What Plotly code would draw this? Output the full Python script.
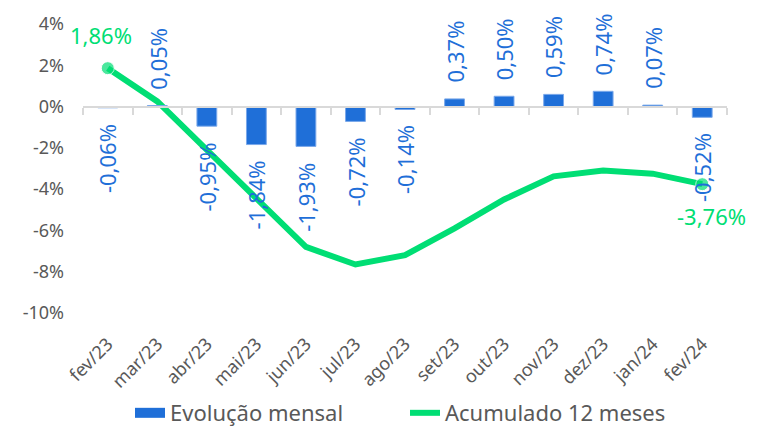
import plotly.graph_objects as go

categories = ["fev/23", "mar/23", "abr/23", "mai/23", "jun/23", "jul/23", "ago/23",
              "set/23", "out/23", "nov/23", "dez/23", "jan/24", "fev/24"]
mensal = [-0.06, 0.05, -0.95, -1.84, -1.93, -0.72, -0.14, 0.37, 0.50, 0.59, 0.74, 0.07, -0.52]
acumulado = [1.86, 0.25, -2.1, -4.45, -6.8, -7.65, -7.2, -5.9, -4.5, -3.38, -3.1, -3.25, -3.76]
y_ticks = [4, 2, 0, -2, -4, -6, -8, -10]

BLUE = "#1F6FD8"
GREEN = "#00DE74"
FONT = "Noto Sans"

def pct(v):
    return f"{v:.2f}%".replace(".", ",")

marker_sizes = [13 if i in (0, len(acumulado) - 1) else 0 for i in range(len(acumulado))]

fig = go.Figure()
fig.add_trace(go.Bar(
    x=categories, y=mensal, name="Evolução mensal",
    marker=dict(color=BLUE, line=dict(color="#7AA8EA", width=1)), width=0.4,
    cliponaxis=False, xaxis="x2", showlegend=False,
))
fig.add_trace(go.Scatter(
    x=categories, y=acumulado, name="Acumulado 12 meses",
    mode="lines+markers",
    line=dict(color=GREEN, width=6),
    marker=dict(color=GREEN, size=marker_sizes),
    cliponaxis=False, showlegend=False,
))
# legend entries
fig.add_trace(go.Scatter(x=[None], y=[None], mode="lines", name="Evolução mensal",
                         line=dict(color=BLUE, width=13)))
fig.add_trace(go.Scatter(x=[None], y=[None], mode="lines", name="Acumulado 12 meses",
                         line=dict(color=GREEN, width=6)))

# bar value labels
for c, v in zip(categories, mensal):
    fig.add_annotation(
        x=c, y=v, xref="x", yref="y", text=pct(v), showarrow=False,
        textangle=-90, font=dict(color=BLUE, size=22, family=FONT),
        yanchor="bottom" if v >= 0 else "top", yshift=14 if v >= 0 else -14,
    )
# line end labels
fig.add_annotation(x=categories[0], y=acumulado[0], text=pct(acumulado[0]), showarrow=False,
                   font=dict(color=GREEN, size=22, family=FONT), yshift=33, xshift=-7)
fig.add_annotation(x=categories[-1], y=acumulado[-1], text=pct(acumulado[-1]), showarrow=False,
                   font=dict(color=GREEN, size=22, family=FONT), yshift=-32, xshift=9)

zero_pos = (0 - (-10)) / (4 - (-10))

fig.update_layout(
    width=759, height=428,
    margin=dict(l=83, r=32, t=24, b=115),
    plot_bgcolor="white", paper_bgcolor="white",
    font=dict(family=FONT, color="#595959", size=17),
    showlegend=True,
    legend=dict(orientation="h", x=0.50, xanchor="center", yref="container", y=0.035,
                yanchor="middle", font=dict(size=22, color="#595959"),
                entrywidth=230, tracegroupgap=0),
    xaxis=dict(type="category", categoryorder="array", categoryarray=categories,
               range=[-0.5, 12.5], showline=False, showgrid=False, zeroline=False,
               ticks="", tickangle=-45, tickfont=dict(size=18, color="#595959"),
               ticklabelstandoff=16, automargin=False),
    xaxis2=dict(type="category", categoryorder="array", categoryarray=categories,
                matches="x", overlaying="x", anchor="free", position=zero_pos,
                showline=True, linecolor="#D9D9D9", linewidth=2,
                ticks="outside", tickson="boundaries", ticklen=7, tickcolor="#D9D9D9",
                tickwidth=2, showticklabels=False, showgrid=False, zeroline=False,
                automargin=False),
    yaxis=dict(range=[-10, 4], tickvals=y_ticks, ticktext=[f"{v}%" for v in y_ticks],
               showgrid=False, zeroline=False, showline=False, automargin=False,
               ticklabelstandoff=18, tickfont=dict(size=18, color="#595959")),
)

fig.write_html("out.html", config={"displayModeBar": False},
               post_script="document.body.style.margin='0';document.body.style.overflow='hidden';")
